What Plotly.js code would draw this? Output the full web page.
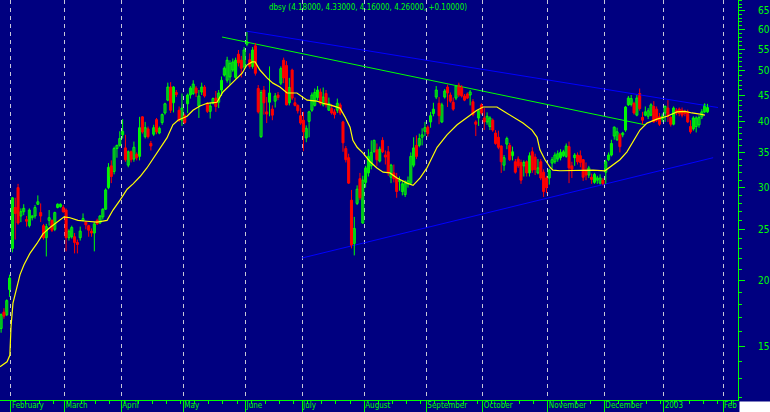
<!DOCTYPE html>
<html><head><meta charset="utf-8">
<script src="https://cdn.plot.ly/plotly-3.0.1.min.js"></script>
<style>html,body{margin:0;padding:0;background:#000080;overflow:hidden}#chart{width:770px;height:412px}</style>
</head><body><div id="chart"></div>
<script>
const titleText = 'dbsy (4.18000, 4.33000, 4.16000, 4.26000, +0.10000)';

const opens = [
16.2,17.4,17.2,19.2,23.0,27.5,30.0,26.5,27.0,26.1,
25.4,26.3,26.5,27.9,26.9,25.4,24.1,26.0,26.0,25.0,
27.5,27.6,27.5,27.2,24.1,24.2,24.2,23.6,24.1,26.0,
25.8,25.4,24.8,24.6,26.0,25.7,26.4,27.3,30.0,33.0,
32.2,35.6,36.1,37.8,35.7,33.1,35.1,34.0,34.7,34.4,
40.9,37.5,38.8,36.4,37.9,40.4,38.1,39.9,41.6,44.0,
46.6,43.5,45.5,42.1,40.3,41.1,43.3,45.0,45.3,46.4,
42.9,45.6,46.6,43.4,41.9,43.4,44.4,43.6,46.0,49.1,
48.0,48.7,50.2,48.6,53.8,52.4,50.9,56.2,52.5,51.0,
55.8,46.3,37.5,46.0,41.8,43.6,42.3,43.8,45.0,47.4,
52.4,51.2,43.5,50.2,43.5,43.0,41.1,40.3,37.3,40.1,
42.1,43.0,44.5,45.6,43.1,45.3,42.1,42.4,41.8,42.1,
43.1,40.0,35.6,34.2,28.4,23.5,28.0,31.2,25.7,30.7,
32.0,33.0,35.1,35.4,33.7,36.9,34.6,35.1,31.4,32.0,
31.3,30.8,29.5,29.1,30.5,30.6,33.1,36.1,36.1,37.4,
38.4,39.1,40.0,41.5,44.6,43.4,40.0,44.6,46.6,45.0,
43.6,44.4,47.0,46.6,44.8,45.2,45.0,43.7,40.0,40.7,
43.1,40.7,40.0,39.2,40.3,38.1,37.4,36.0,33.1,36.3,
36.1,34.5,33.6,34.0,33.5,33.0,33.6,32.0,35.1,34.3,
32.0,33.6,32.1,31.3,31.3,33.4,33.6,34.0,34.2,34.5,
34.4,35.9,33.0,34.2,34.6,34.5,33.9,32.3,31.7,31.4,
30.7,31.0,30.6,31.0,32.1,33.9,34.6,37.6,37.0,37.8,
37.8,38.6,43.1,43.2,43.4,41.2,45.3,40.8,41.2,41.0,
41.2,42.8,42.3,40.9,40.5,41.6,42.5,40.8,39.6,42.1,
42.3,42.1,41.8,41.8,39.2,38.8,39.2,39.5,40.9,41.8,
41.8];

const highs = [
17.3,17.7,18.4,20.5,28.8,28.7,30.5,27.4,27.9,26.5,
27.4,26.6,27.8,29.0,28.0,25.6,25.6,27.2,26.1,27.0,
28.0,28.0,27.8,27.4,25.0,25.4,24.6,23.9,25.3,26.8,
25.9,25.5,25.1,25.8,26.2,26.6,27.4,29.9,33.4,33.8,
35.9,36.2,38.4,40.5,37.8,35.3,35.3,36.7,35.0,40.9,
41.0,40.0,39.2,36.8,39.5,40.7,39.2,41.5,43.5,47.5,
47.6,46.8,46.0,42.8,45.3,41.5,45.3,46.8,48.0,46.8,
46.0,47.5,47.0,43.6,43.6,44.5,45.8,46.0,48.8,51.0,
53.2,52.4,52.8,53.0,54.8,53.4,55.5,59.3,54.0,55.5,
56.5,47.0,46.0,46.8,44.6,51.0,43.0,45.4,45.6,51.0,
53.0,52.2,48.5,50.5,44.5,43.2,42.5,41.8,39.4,42.0,
45.5,46.3,46.8,46.3,46.5,46.0,44.5,43.2,42.3,44.3,
43.5,40.2,36.0,34.8,29.7,26.4,30.3,32.0,31.6,33.0,
35.5,36.9,37.0,36.4,35.9,37.4,35.3,36.0,33.3,33.2,
32.0,31.5,31.0,31.0,31.5,35.0,37.4,37.7,38.0,38.9,
40.0,39.4,41.8,43.5,46.8,44.6,43.5,46.2,47.1,45.5,
44.5,47.0,47.5,47.0,45.2,45.5,46.0,44.2,40.3,42.3,
43.4,42.5,41.7,41.0,40.6,38.6,38.5,36.1,34.6,37.5,
36.5,35.9,34.0,34.4,33.9,33.8,33.8,35.0,35.8,34.8,
34.0,34.0,32.5,31.6,32.6,34.3,35.0,35.3,35.5,35.4,
36.4,36.7,33.6,34.9,35.0,35.3,34.0,33.5,33.0,31.9,
32.0,31.6,31.8,31.3,33.9,35.0,37.0,39.2,39.0,38.1,
38.3,42.9,44.8,45.0,43.7,45.0,46.3,41.8,42.8,42.5,
43.4,43.8,42.8,41.6,41.5,43.0,44.0,41.0,42.8,42.5,
42.6,42.6,42.2,42.2,40.3,41.0,41.0,41.2,42.3,43.4,
43.3];

const lows = [
15.9,16.9,17.1,18.6,22.6,23.9,25.5,25.8,26.6,25.3,
25.2,26.0,26.2,27.8,25.8,23.9,22.2,25.4,24.7,24.8,
27.4,27.5,26.9,22.7,23.8,24.0,22.5,22.5,23.8,25.9,
25.0,24.2,24.2,22.7,25.5,25.6,26.1,27.2,29.8,30.6,
31.8,34.2,35.9,37.2,33.6,32.8,33.5,33.6,33.8,33.8,
38.0,37.2,37.2,35.3,37.6,37.9,37.9,39.5,41.3,43.8,
41.6,41.7,44.6,40.0,39.3,39.6,41.6,44.3,45.0,44.6,
40.7,45.0,44.5,41.6,40.6,43.2,41.8,42.5,44.8,48.8,
47.5,47.0,49.8,48.3,51.0,48.6,50.4,55.7,50.5,50.5,
49.0,41.5,37.3,41.3,39.8,41.0,40.3,42.6,44.0,47.0,
47.4,43.0,43.0,44.0,42.8,41.5,39.5,35.2,36.6,37.4,
41.8,42.8,44.0,43.0,42.8,42.6,42.0,41.3,40.6,41.6,
41.2,35.1,33.5,30.5,23.0,22.3,27.8,28.4,25.6,30.0,
31.5,32.5,35.0,33.0,33.5,34.9,33.2,31.6,30.6,30.7,
28.7,29.6,29.0,28.8,30.0,30.5,32.8,34.0,35.8,36.1,
37.6,37.5,39.0,41.0,44.2,39.6,39.8,44.3,42.7,43.5,
42.0,44.0,44.6,44.5,43.8,44.2,43.0,41.0,37.6,39.3,
41.3,38.6,39.5,38.6,38.3,36.2,35.5,32.0,32.3,35.5,
33.7,33.8,31.9,32.7,30.5,31.5,31.5,31.5,32.0,31.7,
31.8,31.0,28.8,29.3,30.4,32.6,33.3,33.6,33.8,34.3,
34.2,30.6,31.3,33.0,33.2,32.8,30.9,31.0,31.3,30.5,
30.5,30.5,30.4,30.3,30.5,33.7,34.4,37.0,36.8,35.0,
37.4,38.3,42.9,42.8,41.3,41.0,42.0,39.6,41.0,40.5,
41.0,39.9,40.0,39.3,40.0,40.0,40.0,39.2,39.4,41.2,
41.0,40.8,41.0,39.8,38.0,38.5,38.2,39.0,40.5,41.6,
41.6];

const closes = [
17.2,17.1,18.3,20.2,28.7,26.8,25.7,27.0,27.4,25.9,
27.2,26.5,27.5,28.2,26.5,24.1,25.3,26.3,24.9,26.9,
27.9,27.9,27.0,24.1,24.8,25.2,23.6,23.4,24.8,26.2,
25.5,24.9,24.6,25.6,25.6,26.5,27.3,29.7,32.8,31.5,
35.6,36.1,37.2,38.4,33.9,35.1,33.9,35.8,34.2,39.0,
38.3,39.0,37.5,36.0,39.0,38.3,38.9,41.3,43.3,46.6,
42.1,46.6,45.1,40.3,42.5,39.9,45.0,46.4,47.2,45.4,
44.8,46.6,44.8,41.9,42.9,44.3,42.8,45.4,48.0,50.6,
52.4,51.7,52.0,52.4,51.8,50.6,54.8,56.8,51.0,54.8,
49.5,41.8,45.5,43.5,41.4,45.4,41.2,44.8,44.5,50.5,
48.5,43.1,46.5,44.4,43.0,42.0,39.8,38.3,38.9,41.8,
45.0,45.5,46.0,43.4,44.6,43.1,43.4,41.6,41.3,43.4,
41.6,36.5,33.9,30.6,23.3,25.1,29.8,28.7,31.0,32.7,
34.4,35.0,36.9,33.9,35.5,35.1,34.3,32.1,33.1,31.2,
29.5,31.0,30.5,30.6,30.9,34.4,35.7,34.4,37.2,37.8,
39.0,38.0,41.1,42.3,46.0,41.1,43.1,45.8,45.4,43.8,
42.3,46.8,45.0,44.8,44.0,44.4,45.6,41.3,39.6,42.0,
41.6,40.0,41.0,40.7,38.6,36.4,35.8,33.6,34.2,37.2,
33.9,35.1,32.1,33.0,31.0,33.5,32.0,34.5,32.4,32.5,
32.7,31.3,29.5,30.0,32.4,33.9,34.6,34.8,35.0,35.1,
36.0,32.7,32.5,34.6,33.6,33.5,31.4,31.7,32.7,31.1,
31.8,31.3,31.3,30.5,33.6,34.6,36.4,39.1,38.3,35.9,
38.1,42.7,44.4,44.3,41.6,44.4,42.4,40.3,41.8,42.0,
43.1,40.0,40.3,39.6,41.0,42.8,41.0,39.6,42.5,41.6,
41.5,41.2,41.5,40.0,38.3,40.7,40.7,40.8,41.8,43.1,
42.6];

// moving average (yellow), read at points along the line: bar position / value
const maIdx = [-0.4,2.1,3.1,3.5,4.2,5.6,6.7,8.1,10.2,12.7,14.8,17.3,19.8,22.3,24.4,27.2,30.4,33.9,37.5,39.6,
42.1,44.6,46.7,49.2,51.6,55.2,58.7,60.8,62.6,65.8,67.9,70.4,72.9,76.4,78.5,81.0,83.5,85.3,87.0,88.8,
89.9,91.6,94.1,96.2,98.7,101.2,104.7,108.3,111.8,113.9,116.4,119.9,121.7,123.5,124.5,126.0,128.1,130.6,133.0,135.2,
137.6,140.1,143.7,145.8,148.3,150.7,154.3,157.8,161.4,164.9,168.4,170.6,175.5,177.6,181.2,184.7,187.9,189.7,190.7,192.5,
194.3,195.3,197.8,209.5,213.7,216.6,219.0,221.5,223.6,226.1,228.6,232.1,235.7,239.2,242.1,244.5,247.4,249.1];
const maVal = [13.7,14.0,14.4,16.3,18.1,19.4,20.5,21.4,22.5,23.5,24.5,25.2,25.8,26.4,26.3,26.0,25.9,25.8,26.0,27.2,
28.4,29.8,30.5,31.5,32.7,34.9,37.3,39.5,40.3,41.0,42.1,42.9,43.4,43.6,45.6,47.0,48.5,49.5,51.3,52.0,
52.0,50.2,48.5,47.4,46.6,45.4,45.4,44.0,43.8,43.4,43.1,42.5,40.9,39.1,36.9,35.8,34.9,33.6,32.7,32.1,
32.0,31.3,30.6,30.3,31.3,32.7,35.8,37.8,39.5,40.7,42.1,42.7,42.7,42.0,40.9,39.8,38.6,37.4,35.4,33.9,
32.8,32.4,32.3,32.4,32.3,33.1,33.9,35.1,36.6,38.6,39.8,40.5,41.0,41.8,41.9,41.6,41.4,41.2];

// trend lines (two end points each)
const greenTrendIdx = [78.2, 227.9], greenTrendVal = [58.0, 39.5];
const upperTrendIdx = [87.0, 253.7], upperTrendVal = [59.5, 42.6];
const lowerTrendIdx = [106.5, 252.0], lowerTrendVal = [22.05, 34.2];

// axis ticks
const monthTickPos = [3.5,22.5,42.5,64.5,86.5,106.5,128.5,150.5,170.5,193.5,213.5,234.5,255.5];
const monthLabels = ['February','March','April','May','June','July','August','September','October','November','December','2003','Feb'];
const priceTicks = [15,20,25,30,35,40,45,50,55,60,65];
const priceTickLabels = priceTicks.map(String);
const minorPriceTicks = [12,13,14,16,17,18,19,21,22,23,24,26,27,28,29,31,32,33,34,36,37,38,39,41,42,43,44,46,47,48,49,51,52,53,54,56,57,58,59,61,62,63,64,66,67,68];

const GREEN = '#00ff00', RED = '#ff0000', NAVY = '#000080';
const FONT = '"Liberation Sans Narrow","DejaVu Sans Condensed","Liberation Sans",sans-serif';

// split the bars into rising and falling, build wick segments and bodies
function group(up) {
  const wx = [], wy = [], bx = [], bb = [], bh = [];
  opens.forEach((o, i) => {
    const c = closes[i];
    if ((c >= o) !== up) return;
    wx.push(i, i, null); wy.push(lows[i], highs[i], null);
    bx.push(i); bb.push(Math.min(o, c)); bh.push(Math.max(Math.abs(c - o), 0.08));
  });
  return {wx, wy, bx, bb, bh};
}
const upG = group(true), dnG = group(false);

const traces = [
  {type:'scatter', mode:'lines', x:greenTrendIdx, y:greenTrendVal, line:{color:'#00ff00', width:1}, hoverinfo:'skip'},
  {type:'scatter', mode:'lines', x:upperTrendIdx, y:upperTrendVal, line:{color:'#0000ff', width:1}, hoverinfo:'skip'},
  {type:'scatter', mode:'lines', x:lowerTrendIdx, y:lowerTrendVal, line:{color:'#0000ff', width:1}, hoverinfo:'skip'},
  {type:'scatter', mode:'lines', x:upG.wx, y:upG.wy, line:{color:GREEN, width:1}, connectgaps:false, hoverinfo:'skip'},
  {type:'scatter', mode:'lines', x:dnG.wx, y:dnG.wy, line:{color:RED, width:1}, connectgaps:false, hoverinfo:'skip'},
  {type:'bar', x:upG.bx, base:upG.bb, y:upG.bh, width:0.72,
   marker:{color:NAVY, line:{color:GREEN, width:1}}, hoverinfo:'skip'},
  {type:'bar', x:dnG.bx, base:dnG.bb, y:dnG.bh, width:0.72,
   marker:{color:RED, line:{color:RED, width:1}}, hoverinfo:'skip'},
  {type:'scatter', mode:'lines', x:maIdx, y:maVal, line:{color:'#ffff00', width:1.2}, hoverinfo:'skip'}
];

const layout = {
  width:770, height:412,
  margin:{l:0, r:32, t:0, b:12, pad:0},
  paper_bgcolor:NAVY, plot_bgcolor:NAVY,
  showlegend:false, barmode:'overlay',
  title:{text:titleText, font:{family:FONT, size:8, color:GREEN},
         xref:'container', yref:'container', x:368/770, xanchor:'center', y:1-7/412, yanchor:'middle'},
  xaxis:{type:'linear', range:[-0.39, 260.8], fixedrange:true,
    showline:true, linecolor:GREEN, linewidth:1, zeroline:false,
    tickmode:'array', tickvals:monthTickPos, ticktext:monthLabels,
    ticks:'outside', ticklen:12, tickwidth:1, tickcolor:GREEN,
    ticklabelposition:'outside right', ticklabelstandoff:-3,
    tickfont:{family:FONT, size:8, color:GREEN},
    showgrid:true, gridcolor:'#c8c8d8', gridwidth:1, griddash:'4px,4px',
    minor:{tick0:3.5, dtick:5, ticks:'outside', ticklen:3, tickcolor:GREEN, showgrid:false}},
  yaxis:{type:'log', side:'right', range:[1.0735, 1.8338], fixedrange:true,
    showline:true, linecolor:GREEN, linewidth:1, zeroline:false,
    tickmode:'array', tickvals:priceTicks, ticktext:priceTickLabels,
    ticks:'outside', ticklen:6, tickwidth:1, tickcolor:GREEN, ticklabelstandoff:11,
    tickfont:{family:FONT, size:10, color:GREEN},
    showgrid:false,
    minor:{tickmode:'array', tickvals:minorPriceTicks, ticks:'outside', ticklen:3, tickcolor:GREEN, showgrid:false}},
  shapes:[{type:'rect', xref:'paper', yref:'paper', x0:1.002, x1:770/738, y0:-12/400, y1:-1.5/400,
           fillcolor:'#ffffff', line:{width:0}, layer:'above'}]
};

Plotly.newPlot('chart', traces, layout, {staticPlot:true, displayModeBar:false});
</script>
</body></html>
